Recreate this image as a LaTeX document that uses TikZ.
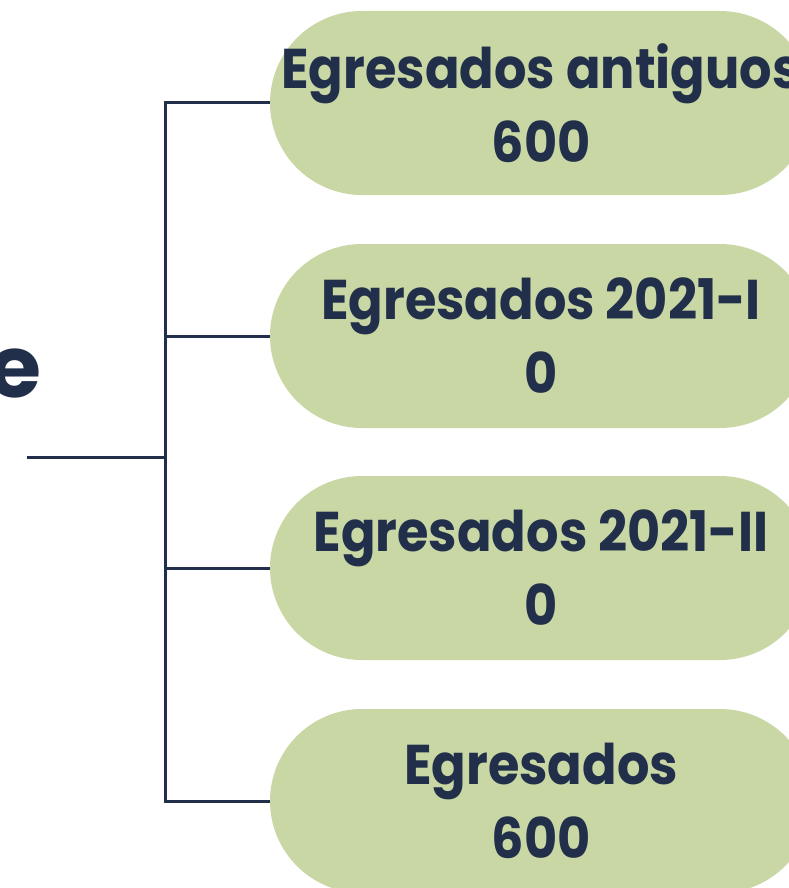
\documentclass[tikz,border=0pt]{standalone}
\usepackage{fontspec}
\setmainfont{Poppins}[BoldFont={Poppins Bold}]
\newfontfamily\boxfont{Poppins Bold}[FakeStretch=0.91]
\usetikzlibrary{shapes.misc}
\definecolor{navy}{HTML}{222F4B}
\definecolor{sage}{HTML}{C9D7A4}
\newcommand{\ctr}[1]{\makebox[0pt][c]{#1}}
\tikzset{
  box/.style={rounded rectangle, fill=sage, minimum width=542pt, minimum height=184pt,
    inner sep=0pt, align=center, text=navy, font=\boxfont\fontsize{56}{74}\selectfont},
  conn/.style={draw=navy, line width=3pt},
}
\begin{document}
\begin{tikzpicture}[x=1pt,y=-1pt]
\useasboundingbox (0,0) rectangle (789,888);
\clip (0,0) rectangle (789,888);
\node[anchor=base east, text=navy, font=\fontsize{86}{90}\selectfont\bfseries, inner sep=0pt] (title) at (42,397) {e};
\node[box] (b1) at (541,103) {\ctr{Egresados antiguos}\\\ctr{600}};
\node[box] (b2) at (541,336) {\ctr{Egresados 2021-I}\\\ctr{0}};
\node[box] (b3) at (541,568) {\ctr{Egresados 2021-II}\\\ctr{0}};
\node[box] (b4) at (541,801) {\ctr{Egresados}\\\ctr{600}};
\coordinate (start) at (27,457);
\coordinate (j) at (165,457);
\draw[conn] (start) -- (j);
\draw[conn, line cap=rect] (b1.west -| j) -- (b4.west -| j);
\draw[conn] (b1.west -| j) -- (b1.west);
\draw[conn] (b2.west -| j) -- (b2.west);
\draw[conn] (b3.west -| j) -- (b3.west);
\draw[conn] (b4.west -| j) -- (b4.west);
\end{tikzpicture}
\end{document}
